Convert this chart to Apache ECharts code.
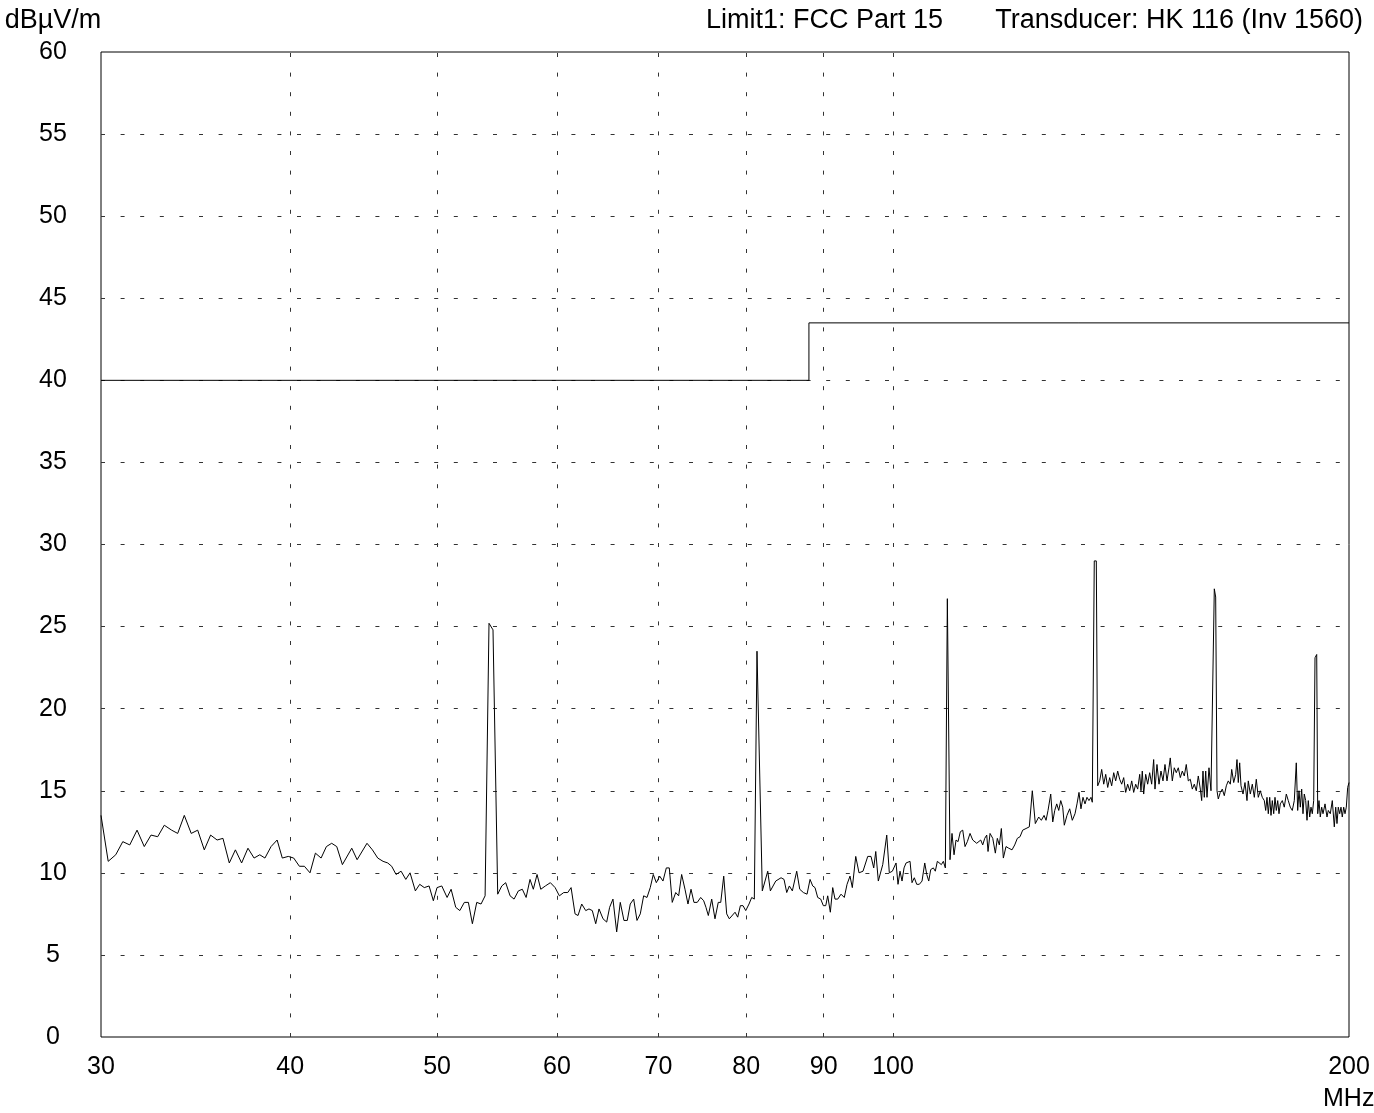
<!DOCTYPE html>
<html>
<head>
<meta charset="utf-8">
<script src="https://cdn.jsdelivr.net/npm/echarts@6/dist/echarts.min.js"></script>
<style>
html,body{margin:0;padding:0;background:#fff;}
#chart{width:1374px;height:1113px;}
</style>
</head>
<body>
<div id="chart"></div>
<script>
// ---- chart data ----
const xLabelValues = [30, 40, 50, 60, 70, 80, 90, 100, 200];
const xGridValues = [40, 50, 60, 70, 80, 90, 100];
const yMin = 0, yMax = 60, yStep = 5;

const limitFreq  = [30, 88, 88, 200];
const limitLevel = [40, 40, 43.5, 43.5];

const traceFreq = [
30.00,30.33,30.68,31.01,31.34,31.69,32.04,32.37,32.70,33.03,
33.40,33.71,34.05,34.41,34.75,35.10,35.44,35.79,36.11,36.46,
36.80,37.15,37.51,37.86,38.19,38.49,38.85,39.21,39.52,39.88,
40.21,40.56,40.87,41.22,41.56,41.92,42.26,42.60,42.93,43.30,
43.92,44.28,44.95,45.32,45.69,46.06,46.39,46.67,46.98,47.34,
47.68,47.99,48.38,48.70,49.04,49.40,49.72,50.00,50.36,50.77,
51.08,51.44,51.76,52.12,52.44,52.76,53.11,53.46,53.79,54.11,
54.44,54.83,55.17,55.50,55.87,56.21,56.58,56.92,57.25,57.59,
57.88,58.21,58.54,58.95,59.40,59.83,60.22,60.62,60.99,61.30,
61.67,61.95,62.30,62.68,62.99,63.31,63.64,63.96,64.35,64.71,
65.00,65.33,65.70,66.06,66.43,66.77,67.07,67.42,67.76,68.10,
68.45,68.80,69.14,69.46,69.78,70.14,70.49,70.85,71.17,71.49,
71.87,72.19,72.52,72.89,73.22,73.56,73.89,74.26,74.65,74.99,
75.25,75.52,75.91,76.29,76.67,76.96,77.31,77.66,77.97,78.65,
78.97,79.29,79.61,79.94,80.34,80.67,80.99,81.32,81.98,82.66,
82.99,83.67,84.35,84.73,85.08,85.42,85.81,86.38,86.78,87.26,
87.75,88.15,88.51,88.82,89.18,89.59,89.95,90.28,90.55,90.91,
91.24,91.56,91.94,92.40,92.86,93.25,93.67,94.00,94.49,94.96,
95.54,96.23,96.71,97.11,97.41,97.79,98.45,99.05,99.44,99.90,
100.46,100.76,101.07,101.38,101.69,102.00,102.31,102.62,102.93,103.29,
103.67,104.08,104.51,104.94,105.26,105.58,105.90,106.32,106.64,106.97,
107.29,107.62,107.95,108.28,108.61,108.84,109.05,109.38,109.72,110.05,
110.39,110.77,111.18,111.57,111.96,112.42,112.88,113.22,113.57,113.91,
114.26,114.61,114.96,115.31,115.54,115.89,116.37,116.83,117.18,117.54,
117.90,118.26,118.74,119.23,119.83,120.32,120.80,121.30,121.79,122.41,
123.02,123.58,124.15,124.79,125.29,125.81,126.19,126.57,127.09,127.48,
127.87,128.26,128.65,129.04,129.43,129.74,130.27,130.81,131.33,131.87,
132.27,132.67,133.07,133.48,133.89,134.29,134.70,135.11,135.38,135.79,
136.21,136.50,136.91,137.33,137.75,138.17,138.59,139.01,139.43,139.86,
140.28,140.71,141.14,141.57,142.00,142.43,142.86,143.30,143.74,144.17,
144.61,145.05,145.50,145.78,146.07,146.38,146.83,147.27,147.72,148.17,
148.62,148.92,149.37,149.83,150.28,150.74,151.20,151.66,152.12,152.42,
152.89,153.35,153.82,154.29,154.76,155.23,155.70,156.17,156.65,157.13,
157.61,158.09,158.57,159.05,159.54,159.87,160.19,160.51,160.85,161.17,
161.66,162.15,162.64,162.97,163.31,163.64,163.96,164.46,164.96,165.46,
165.97,166.47,166.98,167.34,167.85,168.36,168.69,169.02,169.38,169.72,
170.24,170.75,171.27,171.61,172.14,172.66,173.19,173.71,174.24,174.77,
175.30,175.84,176.21,176.56,176.91,177.29,177.64,177.99,178.37,178.72,
179.08,179.46,179.81,180.17,180.72,181.26,181.82,182.37,182.92,183.48,
184.04,184.60,184.99,185.36,185.73,186.12,186.49,186.86,187.26,187.63,
188.00,188.40,188.77,189.15,189.55,189.93,190.42,190.71,191.08,191.46,
191.87,192.25,192.84,193.42,193.80,194.39,194.99,195.58,196.00,196.38,
196.77,197.19,197.58,197.97,198.39,198.79,199.18,199.60,200.00
];

const traceLevel = [
13.5,10.7,11.1,11.9,11.7,12.6,11.6,12.3,12.2,12.9,
12.6,12.4,13.5,12.4,12.6,11.4,12.3,12.0,12.1,10.6,
11.4,10.6,11.5,10.9,11.1,10.9,11.6,12.0,10.9,11.0,
10.9,10.4,10.4,10.0,11.2,10.9,11.6,11.8,11.6,10.5,
11.5,10.8,11.8,11.4,10.9,10.7,10.6,10.4,9.9,10.1,
9.6,10.0,8.9,9.3,9.1,9.2,8.3,9.1,9.2,8.5,
9.0,7.9,7.7,8.2,8.2,6.9,8.2,8.1,8.6,25.2,
24.8,8.7,9.2,9.4,8.6,8.4,8.9,9.0,8.5,9.6,
9.0,9.9,9.0,9.2,9.4,9.1,8.6,8.8,8.8,9.1,
7.5,7.4,8.1,7.7,7.8,7.7,6.9,7.8,7.2,7.0,
7.9,8.4,6.4,8.2,7.1,7.1,8.1,8.4,7.1,7.5,
8.6,8.5,9.1,9.9,9.4,9.8,9.5,10.3,10.3,8.2,
8.8,8.6,9.9,9.0,8.1,9.0,8.2,8.2,8.5,8.3,
7.9,7.4,8.4,7.2,8.2,8.2,9.8,7.5,7.2,7.6,
7.3,8.0,8.0,7.7,8.1,8.5,8.4,23.5,8.9,10.1,
8.9,9.5,9.7,9.6,8.8,9.2,8.9,10.1,9.0,8.8,
8.7,9.6,9.2,9.1,8.5,8.4,8.0,8.0,8.6,7.6,
9.1,8.4,8.4,8.7,8.5,9.3,9.8,9.1,11.0,10.0,
10.1,11.0,11.0,10.3,11.3,9.5,10.5,12.3,10.0,10.1,
10.6,9.3,10.1,9.5,10.3,10.6,10.7,10.7,9.4,9.7,
9.3,9.3,9.5,10.6,9.9,9.5,10.2,10.3,10.1,10.7,
10.6,10.5,10.7,10.3,26.7,26.7,10.8,12.4,11.1,12.0,
11.9,12.5,12.6,11.6,11.9,12.4,12.0,12.1,11.8,11.9,
12.0,11.7,12.1,12.3,11.3,12.4,12.1,11.2,12.1,11.7,
12.7,10.9,11.6,11.5,11.4,11.7,12.1,12.2,12.6,12.7,
12.8,15.0,13.0,13.4,13.2,13.5,13.2,13.8,14.8,13.1,
13.8,14.2,13.8,14.4,14.0,12.9,13.5,13.9,13.2,13.6,
14.2,14.9,13.9,14.6,14.2,14.6,14.4,14.6,14.3,29.0,
29.0,15.3,15.6,16.3,15.4,16.0,15.2,15.8,15.3,16.1,
15.6,16.2,15.7,15.4,15.8,14.9,15.4,15.0,15.6,14.9,
15.4,15.1,16.0,15.0,16.2,14.8,16.0,15.4,16.1,15.4,
16.9,15.1,16.6,15.4,16.2,15.6,16.6,15.6,16.4,17.0,
15.6,16.4,16.1,16.4,15.8,16.2,15.9,16.6,15.6,15.7,
15.1,15.4,15.0,15.9,15.1,14.4,16.2,14.6,16.2,14.6,
16.4,15.0,15.0,27.3,26.8,15.0,14.5,14.9,15.1,14.7,
15.3,15.6,15.4,16.3,15.5,16.0,16.9,15.5,16.7,15.3,
14.8,15.5,14.4,15.6,14.8,15.4,14.6,15.7,14.6,15.0,
14.6,14.4,13.8,14.6,13.6,14.6,13.5,14.4,13.6,14.6,
13.8,14.4,13.6,14.2,14.4,14.0,14.8,14.4,14.0,13.8,
14.4,16.7,13.8,15.0,14.0,15.1,13.6,14.8,14.4,13.2,
14.4,13.4,14.0,13.6,14.4,23.1,23.3,13.6,14.4,13.4,
14.0,13.6,14.2,13.4,13.8,13.6,14.4,12.8,14.0,13.0,
14.0,13.6,14.0,13.4,14.0,13.6,14.0,15.2,15.5
];

const yUnit = 'dBµV/m';
const xUnit = 'MHz';
const headerLimit = 'Limit1: FCC Part 15';
const headerTransducer = 'Transducer: HK 116 (Inv 1560)';

// ---- build ----
const FONT = "'Liberation Sans', Arial, Helvetica, sans-serif";
const FS = 25;     // axis labels
const FS_HEAD = 27; // header / unit text
function pairs(xs, ys) {
  const n = Math.min(xs.length, ys.length);
  const out = [];
  for (let i = 0; i < n; i++) out.push([xs[i], ys[i]]);
  return out;
}

const chart = echarts.init(document.getElementById('chart'), null, {renderer: 'canvas'});
const gridColor = '#333';
const option = {
  animation: false,
  backgroundColor: '#ffffff',
  textStyle: {fontFamily: FONT},
  grid: {left: 101, right: 25, top: 52, bottom: 76, show: true,
         borderColor: '#000', borderWidth: 1, backgroundColor: 'transparent'},
  xAxis: {
    type: 'log', logBase: 10, min: 30, max: 200,
    axisLine: {show: false},
    axisTick: {show: false, customValues: xGridValues},
    axisLabel: {
      customValues: xLabelValues,
      color: '#000', fontSize: FS, fontFamily: FONT, margin: 18,
      formatter: function (v) { return String(Math.round(v)); }
    },
    splitLine: {show: true,
      lineStyle: {color: gridColor, width: 1, type: [4, 15.6], dashOffset: 18.6}}
  },
  yAxis: {
    type: 'value', min: yMin, max: yMax, interval: yStep,
    axisLine: {show: false}, axisTick: {show: false},
    axisLabel: {color: '#000', fontSize: FS, fontFamily: FONT, margin: 48, align: 'center'},
    splitLine: {show: true, showMinLine: false, showMaxLine: false,
      lineStyle: {color: gridColor, width: 1, type: [4, 15.6]}}
  },
  series: [
    {name: 'Limit', type: 'line', data: pairs(limitFreq, limitLevel), symbol: 'none',
     lineStyle: {color: '#000', width: 1}, silent: true, z: 3},
    {name: 'Trace', type: 'line', data: pairs(traceFreq, traceLevel), symbol: 'none',
     lineStyle: {color: '#000', width: 1}, silent: true, z: 4}
  ],
  graphic: [
    {type: 'text', x: 53, y: 21, style: {text: yUnit, align: 'center', verticalAlign: 'middle',
      fontSize: FS_HEAD, fontFamily: FONT, fill: '#000'}},
    {type: 'text', x: 706, y: 21, style: {text: headerLimit, align: 'left', verticalAlign: 'middle',
      fontSize: FS_HEAD, fontFamily: FONT, fill: '#000'}},
    {type: 'text', x: 1363, y: 21, style: {text: headerTransducer, align: 'right', verticalAlign: 'middle',
      fontSize: FS_HEAD, fontFamily: FONT, fill: '#000'}},
    {type: 'text', x: 1323, y: 1099, style: {text: xUnit, align: 'left', verticalAlign: 'middle',
      fontSize: FS, fontFamily: FONT, fill: '#000'}}
  ]
};
chart.setOption(option);
</script>
</body>
</html>
